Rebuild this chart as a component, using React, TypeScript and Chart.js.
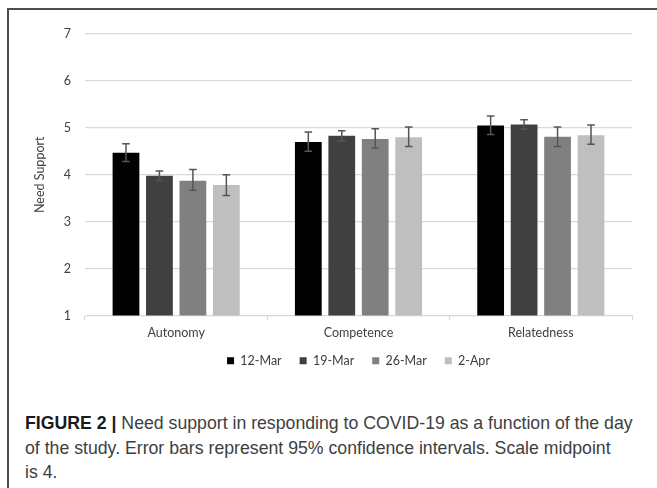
import React, { useEffect, useRef } from "react";
import { Chart, registerables } from "chart.js";

Chart.register(...registerables);

const categories = ["Autonomy", "Competence", "Relatedness"];
const seriesLabels = ["12-Mar", "19-Mar", "26-Mar", "2-Apr"];
const seriesColors = ["#000000", "#404040", "#808080", "#bfbfbf"];

const mar12 = [4.47, 4.70, 5.05];
const mar19 = [3.98, 4.83, 5.07];
const mar26 = [3.87, 4.76, 4.81];
const apr2 = [3.78, 4.80, 4.84];

const mar12Low = [4.28, 4.50, 4.86];
const mar12High = [4.66, 4.91, 5.25];
const mar19Low = [3.88, 4.72, 4.97];
const mar19High = [4.08, 4.94, 5.17];
const mar26Low = [3.67, 4.57, 4.60];
const mar26High = [4.11, 4.98, 5.02];
const apr2Low = [3.56, 4.60, 4.65];
const apr2High = [4.00, 5.02, 5.06];

const yMin = 1;
const yMax = 7;
const yStep = 1;
const yTitle = "Need Support";

const captionBold = "FIGURE 2 |";
const captionLines = [
  " Need support in responding to COVID-19 as a function of the day",
  "of the study. Error bars represent 95% confidence intervals. Scale midpoint",
  "is 4.",
];

const seriesValues = [mar12, mar19, mar26, apr2];
const seriesLow = [mar12Low, mar19Low, mar26Low, apr2Low];
const seriesHigh = [mar12High, mar19High, mar26High, apr2High];

const errorBarPlugin = {
  id: "errorBars",
  afterDatasetsDraw(chart: any) {
    const ctx = chart.ctx;
    const yScale = chart.scales.y;
    ctx.save();
    ctx.strokeStyle = "#555555";
    ctx.lineWidth = 1.5;
    chart.data.datasets.forEach((_ds: any, i: number) => {
      const meta = chart.getDatasetMeta(i);
      meta.data.forEach((bar: any, j: number) => {
        const x = bar.x;
        const yHi = yScale.getPixelForValue(seriesHigh[i][j]);
        const yLo = yScale.getPixelForValue(seriesLow[i][j]);
        const cap = 3.8;
        ctx.beginPath();
        ctx.moveTo(x, yHi);
        ctx.lineTo(x, yLo);
        ctx.moveTo(x - cap, yHi);
        ctx.lineTo(x + cap, yHi);
        ctx.moveTo(x - cap, yLo);
        ctx.lineTo(x + cap, yLo);
        ctx.stroke();
      });
    });
    ctx.restore();
  },
};

// let the category labels extend below the (tight) x-axis box without being clipped
const labelRoomPlugin = {
  id: "labelRoom",
  afterLayout(chart: any) {
    const x = chart.scales.x;
    if (x) x.bottom = x.top + 40;
  },
};

const FONT = "Lato";
const TEXT = "#404040";

export default function App() {
  const canvasRef = useRef<HTMLCanvasElement | null>(null);

  useEffect(() => {
    if (!canvasRef.current) return;
    const chart = new Chart(canvasRef.current, {
      type: "bar",
      data: {
        labels: categories,
        datasets: seriesLabels.map((label, i) => ({
          label,
          data: seriesValues[i],
          backgroundColor: seriesColors[i],
          borderWidth: 0,
          categoryPercentage: 0.734,
          barPercentage: 0.8,
        })),
      },
      options: {
        responsive: false,
        animation: false,
        layout: { padding: { top: 24, right: 18, left: 0, bottom: 0 } },
        plugins: {
          tooltip: { enabled: false },
          legend: {
            position: "bottom",
            fullSize: false,
            labels: {
              font: { family: FONT, size: 12.5 },
              color: TEXT,
              boxWidth: 7,
              boxHeight: 7,
              padding: 18,
            },
          },
        },
        scales: {
          x: {
            afterFit(scale: any) {
              scale.height = 21;
            },
            grid: {
              offset: true,
              drawOnChartArea: false,
              drawTicks: true,
              tickLength: 5,
              color: "#d9d9d9",
            },
            border: { display: true, color: "#d9d9d9", width: 1 },
            ticks: {
              font: { family: FONT, size: 12.5 },
              color: TEXT,
              padding: 5,
            },
          },
          y: {
            min: yMin,
            max: yMax,
            afterFit(scale: any) {
              scale.width = 75;
            },
            ticks: {
              stepSize: yStep,
              font: { family: FONT, size: 12.5 },
              color: TEXT,
              padding: 14,
            },
            grid: { color: "#d9d9d9", drawTicks: false, lineWidth: 1.2 },
            border: { display: false },
            title: {
              display: true,
              text: yTitle,
              font: { family: FONT, size: 12.5 },
              color: TEXT,
              padding: { top: 22, bottom: 0 },
            },
          },
        },
      },
      plugins: [errorBarPlugin, labelRoomPlugin],
    });
    return () => chart.destroy();
  }, []);

  return (
    <div style={{ position: "absolute", left: 0, top: 0, width: 657, height: 488, overflow: "hidden", background: "#fff" }}>
      <div
        style={{
          position: "absolute",
          left: 7,
          top: 8,
          width: 700,
          height: 600,
          borderLeft: "2px solid #4d4d4d",
          borderTop: "2px solid #4d4d4d",
        }}
      />
      <canvas
        ref={canvasRef}
        width={640}
        height={367}
        style={{ position: "absolute", left: 10, top: 10, width: 640, height: 367 }}
      />
      <div
        style={{
          position: "absolute",
          left: 25,
          top: 411,
          whiteSpace: "nowrap",
          fontFamily: "'Liberation Sans', Arial, sans-serif",
          fontSize: 17.7,
          lineHeight: "24.5px",
          color: "#404040",
        }}
      >
        <span style={{ fontWeight: "bold", color: "#1a1a1a" }}>{captionBold}</span>
        {captionLines[0]}
        <br />
        {captionLines[1]}
        <br />
        {captionLines[2]}
      </div>
    </div>
  );
}
